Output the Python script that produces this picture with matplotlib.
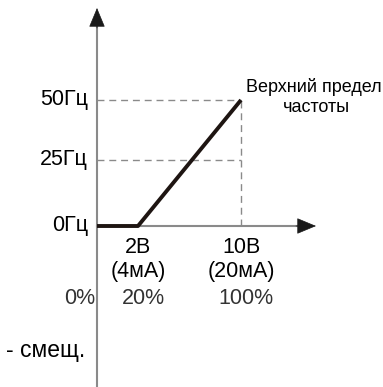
import numpy as np
import matplotlib
matplotlib.use('Agg')
import matplotlib.pyplot as plt

plt.rcParams['font.family'] = ['Liberation Sans', 'DejaVu Sans']

# characteristic: input signal (V) -> output frequency (Hz)
volts = [0, 2, 10]
freq = [0, 0, 50]
freq_ticks = [0, 25, 50]
freq_labels = ['0Гц', '25Гц', '50Гц']
x_ticks = [2, 10]
v_labels = ['2В', '10В']
ma_labels = ['(4мА)', '(20мА)']
pct_labels = ['20%', '100%']
top_label = ['Верхний предел', 'частоты']

# schematic (non-linear) placement of the axes, pixels per unit piecewise
vx = [-100, 0, 2, 10, 100]
px = [-2050, 0, 41, 144, 1764]
vy = [-100, 0, 25, 50, 200]
py = [-264, 0, 66, 126, 486]


def fx(x):
    return np.interp(x, vx, px)


def ix(p):
    return np.interp(p, px, vx)


def fy(y):
    return np.interp(y, vy, py)


def iy(p):
    return np.interp(p, py, vy)


fig = plt.figure(figsize=(3.83, 3.87), dpi=100)
ax = fig.add_axes([0, 0, 1, 1])
ax.set_xscale('function', functions=(fx, ix))
ax.set_yscale('function', functions=(fy, iy))
ax.set_xlim(ix(-97), ix(286))
ax.set_ylim(iy(-161), iy(226))
ax.axis('off')

axis_c = '#8a8a8a'
line_c = '#1e1512'

# axes lines with arrows
ax.plot([0, 0], [iy(-161), iy(205)], color=axis_c, lw=1.5)
ax.plot([0, ix(205)], [0, 0], color=axis_c, lw=1.5)
arrow = dict(arrowstyle='-|>,head_length=1.25,head_width=0.52',
             color='#1a1a1a', lw=0.5, shrinkA=0, shrinkB=0)
ax.annotate('', xy=(0, iy(218)), xytext=(0, iy(198)), arrowprops=arrow)
ax.annotate('', xy=(ix(219), 0), xytext=(ix(199), 0), arrowprops=arrow)

# guide lines
for f in freq_ticks[1:]:
    ax.plot([0, volts[-1]], [f, f], color=axis_c, lw=1, ls=(0, (5, 3.5)))
ax.plot([volts[-1], volts[-1]], [0, freq[-1]], color=axis_c, lw=1, ls=(0, (5, 3.5)))

# characteristic
ax.plot(volts, freq, color=line_c, lw=2.8, solid_capstyle='butt')

# labels
for f, lab in zip(freq_ticks, freq_labels):
    ax.text(ix(-9), f, lab, ha='right', va='center', fontsize=15.5)
for x, v, ma, p in zip(x_ticks, v_labels, ma_labels, pct_labels):
    ax.text(x, iy(-22), v, ha='center', va='center', fontsize=15.5)
    ax.text(x, iy(-45), ma, ha='center', va='center', fontsize=15.5)
    ax.text(ix(fx(x) + 5), iy(-73), p, ha='center', va='center', fontsize=15.5,
            color='#333333')
ax.text(ix(-2), iy(-73), '0%', ha='right', va='center', fontsize=15.5, color='#333333')
ax.text(ix(-12), iy(-125), '- смещ.', ha='right', va='center', fontsize=16.5)
ax.text(ix(217), iy(139), top_label[0], ha='center', va='center', fontsize=13)
ax.text(ix(219), iy(118), top_label[1], ha='center', va='center', fontsize=13)

fig.savefig('out.png', dpi=100)
